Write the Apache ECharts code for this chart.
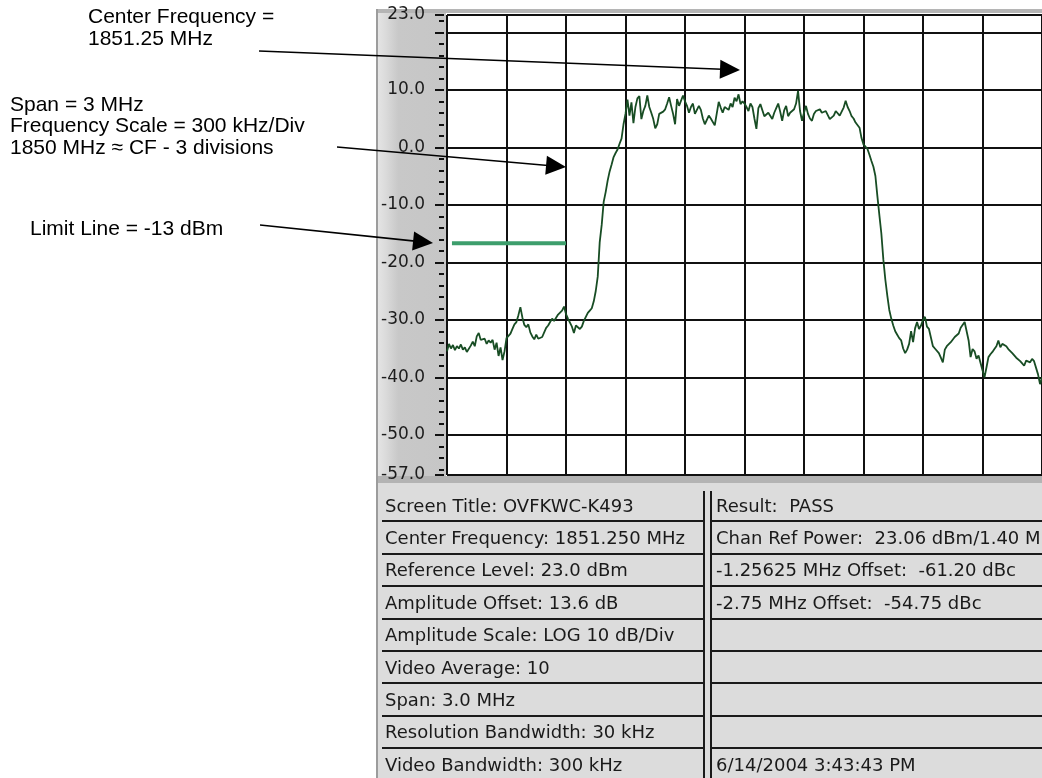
<!DOCTYPE html>
<html><head><meta charset="utf-8">
<script src="https://cdn.jsdelivr.net/npm/echarts@6/dist/echarts.min.js"></script>
<style>html,body{margin:0;padding:0;background:#fff}#c{width:1042px;height:778px}</style>
</head><body><div id="c"></div>
<script>
// ---- data (frequency offset from CF 1851.25 MHz, in kHz; level in dBm) ----
const startKHz = -1500;
const stepKHz = 10;
const traceDbm = [
 -35.5,-34.2,-35.0,-34.4,-35.3,-34.6,-35.0,-34.3,-35.2,-34.8,
 -35.6,-35.9,-34.5,-33.8,-34.6,-32.9,-32.3,-33.5,-33.7,-33.3,
 -34.2,-33.6,-34.0,-33.5,-35.2,-34.0,-36.3,-34.8,-37.0,-35.5,
 -33.2,
 -33.0,-32.4,-31.6,-30.8,-30.4,-29.2,-27.8,-29.6,-30.9,-31.3,
 -30.8,-32.2,-32.9,-33.4,-32.6,-33.3,-33.4,-33.0,-32.2,-31.4,
 -31.0,-30.4,-29.8,-30.2,-29.9,-29.1,-28.9,-28.4,-27.7,-29.0,
 -29.8,-30.5,-31.2,-32.3,-31.0,-30.9,-31.6,-31.2,-30.2,-29.5,
 -28.8,-28.4,-28.0,-26.8,-25.0,-22.5,-16.5,-13.5,-9.5,-7.8,
 -5.8,-4.2,-3.0,-1.7,-1.0,-0.4,0.6,1.5,4.0,5.8,
 8.3,5.5,7.8,4.2,7.0,8.5,8.9,4.9,6.3,7.2,
 9.0,7.0,6.0,4.9,3.3,4.0,5.8,5.5,6.2,6.6,
 7.6,8.7,7.2,5.8,4.0,8.4,7.2,7.5,9.0,8.0,
 7.2,6.0,7.0,7.6,5.8,5.5,7.2,6.5,5.0,4.0,
 3.7,5.5,5.0,4.7,3.8,4.0,7.9,6.9,6.0,7.0,
 7.2,6.5,7.6,7.0,8.6,8.0,9.2,7.5,8.0,7.6,
 7.0,6.3,7.6,7.0,5.0,3.2,6.8,7.5,7.6,5.4,
 5.2,6.0,6.2,4.9,6.0,6.8,7.6,6.2,4.6,6.4,
 7.2,5.4,6.0,6.3,6.6,7.6,9.8,6.3,4.6,6.0,
 7.2,5.8,5.0,4.6,5.8,6.3,6.0,6.6,6.0,5.8,
 6.3,6.0,4.9,5.2,5.5,6.3,6.0,5.5,5.8,6.9,
 8.1,7.0,6.3,5.4,5.0,4.3,4.0,3.4,1.6,0.5,
 0.2,-0.3,-1.3,-2.4,-3.4,-5.0,-8.5,-11.8,-15.0,-19.5,
 -23.0,-25.8,-28.3,-29.8,-31.0,-32.0,-32.6,-33.2,-33.6,-35.0,
 -35.8,-35.2,-34.2,-32.0,-33.9,-31.5,-30.4,-31.6,-31.0,-30.0,
 -29.5,-31.2,-31.6,-31.9,-34.6,-35.0,-35.3,-35.8,-36.6,-37.4,
 -35.2,-34.6,-34.8,-33.9,-34.2,-33.0,-32.7,-32.4,-31.4,-31.2,
 -30.4,-30.7,-33.6,-36.5,-35.1,-35.5,-36.8,-36.2,-36.5,-38.8,
 -40.0,-38.3,-36.5,-36.0,-35.6,-35.1,-34.6,-33.6,-34.8,-34.2,
 -33.9,-34.6,-35.1,-35.3,-35.8,-36.2,-36.6,-36.8,-37.2,-37.6,
 -38.0,-37.1,-37.3,-37.4,-36.8,-37.2,-37.4,-39.5,-41.2,-40.0
];
const limitLevel = -16.7;            // where the drawn limit line sits on this scale
const limitSpanKHz = [-1475, -900];
const yLabelValues = [23, 10, 0, -10, -20, -30, -40, -50, -57];
const yGridValues = [23, 20, 10, 0, -10, -20, -30, -40, -50, -57];
const yMinorValues = [22,18,16,14,12,8,6,4,2,-2,-4,-6,-8,-12,-14,-16,-18,-22,-24,-26,-28,
  -32,-34,-36,-38,-42,-44,-46,-48,-52,-54,-56];
const leftInfo = [
 'Screen Title: OVFKWC-K493','Center Frequency: 1851.250 MHz','Reference Level: 23.0 dBm',
 'Amplitude Offset: 13.6 dB','Amplitude Scale: LOG 10 dB/Div','Video Average: 10',
 'Span: 3.0 MHz','Resolution Bandwidth: 30 kHz','Video Bandwidth: 300 kHz'];
const rightInfo = [
 'Result:  PASS','Chan Ref Power:  23.06 dBm/1.40 MHz','-1.25625 MHz Offset:  -61.20 dBc',
 '-2.75 MHz Offset:  -54.75 dBc','','','','','6/14/2004 3:43:43 PM'];
const noteLines = [
 {t:'Center Frequency =', x:88, y:17},
 {t:'1851.25 MHz', x:88, y:39},
 {t:'Span = 3 MHz', x:10, y:105},
 {t:'Frequency Scale = 300 kHz/Div', x:10, y:126},
 {t:'1850 MHz \u2248 CF - 3 divisions', x:10, y:148},
 {t:'Limit Line = -13 dBm', x:30, y:229}
];
const arrows = [
 {from:[259,51], to:[740,70]},
 {from:[337,147], to:[566,167]},
 {from:[260,225], to:[433,243]}
];

// ---- build ----
const traceData = traceDbm.map((v,i)=>[startKHz + i*stepKHz, v]);
const limitData = [[limitSpanKHz[0], limitLevel],[limitSpanKHz[1], limitLevel]];

const g = [];
// frame / panels
g.push({type:'rect', z:-5, shape:{x:376,y:9,width:666,height:4}, style:{fill:'#b5b5b5'}});
g.push({type:'rect', z:-5, shape:{x:376,y:9,width:2,height:769}, style:{fill:'#9c9c9c'}});
g.push({type:'rect', z:-5, shape:{x:378,y:13,width:68,height:463}, style:{fill:new echarts.graphic.LinearGradient(0,0,1,0,[
  {offset:0,color:'#e4e4e4'},{offset:0.12,color:'#dadada'},{offset:0.3,color:'#c8c8c8'},{offset:1,color:'#c6c6c6'}])}});
g.push({type:'rect', z:-5, shape:{x:378,y:476,width:664,height:7}, style:{fill:'#b3b3b3'}});
g.push({type:'rect', z:-5, shape:{x:378,y:483,width:664,height:295}, style:{fill:'#dcdcdc'}});
// table lines
const rowTop = 489, rowH = 32.4;
for (let k=1;k<9;k++){
  const y = Math.round(rowTop + rowH*k);
  g.push({type:'line', shape:{x1:382,y1:y,x2:704,y2:y}, style:{stroke:'#1a1a1a',lineWidth:2}});
  g.push({type:'line', shape:{x1:711,y1:y,x2:1042,y2:y}, style:{stroke:'#1a1a1a',lineWidth:2}});
}
g.push({type:'line', shape:{x1:704,y1:491,x2:704,y2:778}, style:{stroke:'#1a1a1a',lineWidth:2}});
g.push({type:'line', shape:{x1:711,y1:491,x2:711,y2:778}, style:{stroke:'#1a1a1a',lineWidth:2}});
for (let k=0;k<9;k++){
  const cy = rowTop + rowH*k + 18;
  g.push({type:'text', style:{text:leftInfo[k], x:385, y:cy, font:'18px "DejaVu Sans"', fill:'#1a1a1a', align:'left', verticalAlign:'middle'}});
  if (rightInfo[k]) g.push({type:'text', style:{text:rightInfo[k], x:716, y:cy, font:'18px "DejaVu Sans"', fill:'#1a1a1a', align:'left', verticalAlign:'middle'}});
}
// notes
noteLines.forEach(n=>g.push({type:'text', z:100, style:{text:n.t, x:n.x, y:n.y, font:'21px "Liberation Sans"', fill:'#000', align:'left', verticalAlign:'middle'}}));
// arrows
arrows.forEach(a=>{
  const [x1,y1]=a.from,[x2,y2]=a.to;
  const dx=x2-x1, dy=y2-y1, L=Math.hypot(dx,dy), ux=dx/L, uy=dy/L;
  const hl=20, hw=9.5, bx=x2-ux*hl, by=y2-uy*hl;
  g.push({type:'line', z:100, shape:{x1:x1,y1:y1,x2:bx+ux*2,y2:by+uy*2}, style:{stroke:'#000',lineWidth:1.6}});
  g.push({type:'polygon', z:100, shape:{points:[[x2,y2],[bx-uy*hw,by+ux*hw],[bx+uy*hw,by-ux*hw]]}, style:{fill:'#000'}});
});

const chart = echarts.init(document.getElementById('c'), null, {renderer:'canvas'});
chart.setOption({
  animation:false,
  backgroundColor:'#ffffff',
  grid:{left:447, top:15, width:597, height:460, containLabel:false},
  xAxis:{type:'value', min:-1500, max:1500, interval:300,
    axisLine:{show:false}, axisTick:{show:false}, axisLabel:{show:false},
    splitLine:{show:true, lineStyle:{color:'#111', width:2}}},
  yAxis:[
    {type:'value', min:-57, max:23, position:'left',
     axisLine:{show:true, lineStyle:{color:'#111', width:2}},
     axisTick:{show:false, customValues:yGridValues},
     axisLabel:{show:false},
     splitLine:{show:true, lineStyle:{color:'#111', width:2}}},
    {type:'value', min:-57, max:23, position:'left', offset:3,
     axisLine:{show:false},
     axisTick:{show:true, length:9, customValues:yGridValues, lineStyle:{color:'#111', width:2}},
     axisLabel:{show:true, customValues:yLabelValues, margin:19, formatter:v=>Number(v).toFixed(1),
       fontFamily:'DejaVu Sans', fontSize:17, color:'#1c1c1c'},
     splitLine:{show:false}},
    {type:'value', min:-57, max:23, position:'left', offset:3,
     axisLine:{show:false},
     axisTick:{show:true, length:5, customValues:yMinorValues, lineStyle:{color:'#111', width:2}},
     axisLabel:{show:false}, splitLine:{show:false}}
  ],
  series:[
    {type:'line', name:'trace', data:traceData, showSymbol:false, symbol:'none', yAxisIndex:0,
     lineStyle:{color:'#184d24', width:1.8}, z:5},
    {type:'line', name:'limit', data:limitData, showSymbol:false, symbol:'none', yAxisIndex:0,
     lineStyle:{color:'#3d9e6c', width:4}, z:4}
  ],
  graphic:g
});
</script></body></html>
